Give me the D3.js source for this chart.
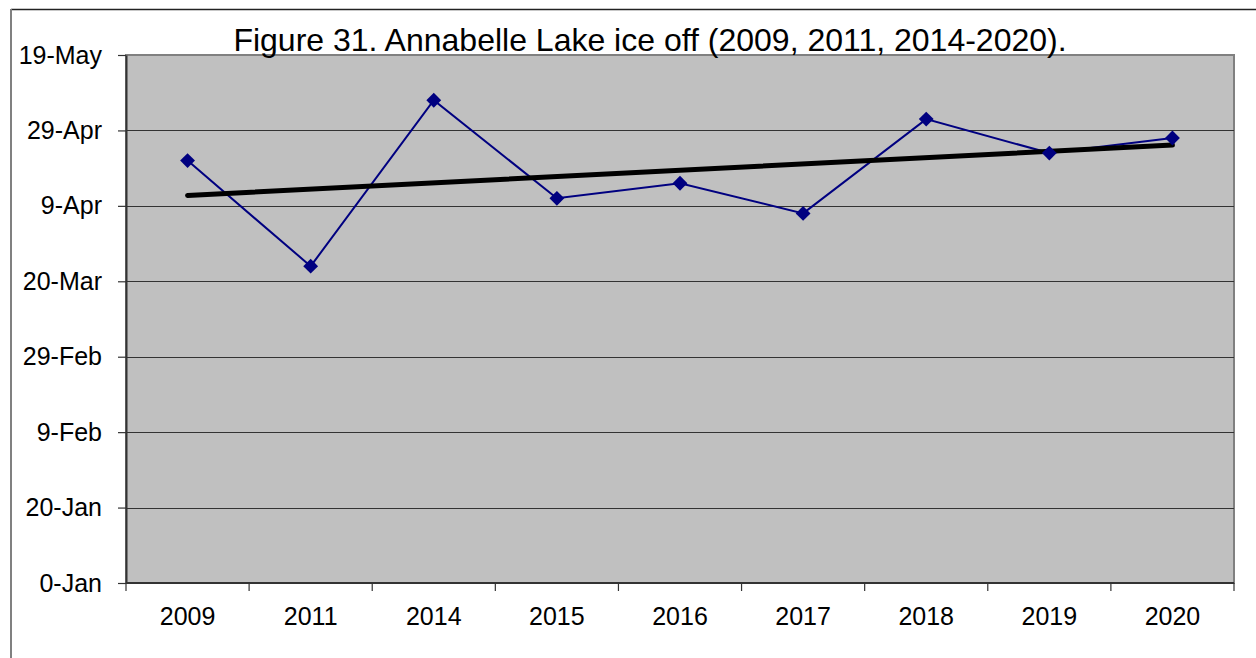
<!DOCTYPE html>
<html>
<head>
<meta charset="utf-8">
<script src="https://cdn.jsdelivr.net/npm/d3@7"></script>
<style>
  html, body { margin: 0; padding: 0; background: #fff; }
  svg { display: block; font-family: "Liberation Sans", Arial, sans-serif; }
</style>
</head>
<body>
<svg id="chart" width="1256" height="658"></svg>
<script>
// Ice-off dates, as day-of-year serials (0 = "0-Jan")
const years = ["2009", "2011", "2014", "2015", "2016", "2017", "2018", "2019", "2020"];
const iceOffDay = [112, 84, 128, 102, 106, 98, 123, 114, 118];
const yTickValues = [0, 20, 40, 60, 80, 100, 120, 140];
const yTickLabels = ["0-Jan", "20-Jan", "9-Feb", "29-Feb", "20-Mar", "9-Apr", "29-Apr", "19-May"];
const title = "Figure 31. Annabelle Lake ice off (2009, 2011, 2014-2020).";

const svg = d3.select("#chart");
const plot = { left: 126, top: 55, right: 1234, bottom: 583 };
const fontFamily = "'Liberation Sans', Arial, sans-serif";

// Outer frame lines
svg.append("line").attr("x1", 11).attr("x2", 1256).attr("y1", 9.5).attr("y2", 9.5)
  .attr("stroke", "#222").attr("stroke-width", 1.5);
svg.append("line").attr("x1", 11).attr("x2", 11).attr("y1", 9).attr("y2", 658)
  .attr("stroke", "#808080").attr("stroke-width", 2);

const x = d3.scaleBand().domain(years).range([plot.left, plot.right]).padding(0);
const y = d3.scaleLinear().domain([0, 140]).range([plot.bottom, plot.top]);

// Plot background
svg.append("rect")
  .attr("x", plot.left).attr("y", plot.top)
  .attr("width", plot.right - plot.left).attr("height", plot.bottom - plot.top)
  .attr("fill", "#C0C0C0").attr("stroke", "#808080").attr("stroke-width", 2);

// Horizontal gridlines
svg.append("g").selectAll("line")
  .data(yTickValues.filter(v => v > 0 && v < 140))
  .join("line")
  .attr("x1", plot.left).attr("x2", plot.right)
  .attr("y1", d => Math.round(y(d)) + 0.5).attr("y2", d => Math.round(y(d)) + 0.5)
  .attr("stroke", "#333").attr("stroke-width", 1.2);

// Y axis
const yAxis = d3.axisLeft(y)
  .tickValues(yTickValues)
  .tickFormat((d, i) => yTickLabels[i])
  .tickSize(8).tickSizeOuter(0).tickPadding(16);
const gy = svg.append("g").attr("transform", `translate(${plot.left},0)`).call(yAxis);
gy.attr("font-size", null).attr("font-family", null);
gy.select(".domain").attr("stroke", "#333").attr("stroke-width", 2);
gy.selectAll(".tick line").attr("stroke", "#333").attr("stroke-width", 1.2);
gy.selectAll(".tick text").attr("font-size", 25).attr("fill", "#000")
  .attr("font-family", fontFamily);

// X axis with tick marks at category boundaries
const gx = svg.append("g").attr("transform", `translate(0,${plot.bottom})`);
gx.append("line").attr("x1", plot.left).attr("x2", plot.right)
  .attr("y1", 0).attr("y2", 0).attr("stroke", "#333").attr("stroke-width", 2);
const bounds = years.map(d => x(d)).concat([plot.right]);
gx.selectAll("line.tk").data(bounds).join("line").attr("class", "tk")
  .attr("x1", d => d).attr("x2", d => d).attr("y1", 0).attr("y2", 8)
  .attr("stroke", "#333").attr("stroke-width", 1.2);
gx.selectAll("text").data(years).join("text")
  .attr("x", d => x(d) + x.bandwidth() / 2).attr("y", 42)
  .attr("text-anchor", "middle").attr("font-size", 25).attr("fill", "#000")
  .attr("font-family", fontFamily)
  .text(d => d);

// Linear trend (least squares over category index 1..n)
const n = iceOffDay.length;
const xs = d3.range(1, n + 1);
const mx = d3.mean(xs), my = d3.mean(iceOffDay);
const slope = d3.sum(xs, (xi, i) => (xi - mx) * (iceOffDay[i] - my)) / d3.sum(xs, xi => (xi - mx) ** 2);
const intercept = my - slope * mx;
const cx = i => x(years[i]) + x.bandwidth() / 2;

// Data series
const line = d3.line().x((d, i) => cx(i)).y(d => y(d));
svg.append("path").datum(iceOffDay)
  .attr("d", line).attr("fill", "none")
  .attr("stroke", "#000080").attr("stroke-width", 2);

svg.append("line")
  .attr("x1", cx(0)).attr("y1", y(intercept + slope * 1))
  .attr("x2", cx(n - 1)).attr("y2", y(intercept + slope * n))
  .attr("stroke", "#000").attr("stroke-width", 5).attr("stroke-linecap", "round");

svg.append("g").selectAll("path")
  .data(iceOffDay).join("path")
  .attr("d", d3.symbol(d3.symbolSquare, 110))
  .attr("transform", (d, i) => `translate(${cx(i)},${y(d)}) rotate(45)`)
  .attr("fill", "#000080");

// Title
svg.append("text")
  .attr("x", 650).attr("y", 51)
  .attr("text-anchor", "middle").attr("font-size", 32).attr("fill", "#000")
  .attr("font-family", fontFamily)
  .text(title);
</script>
</body>
</html>
